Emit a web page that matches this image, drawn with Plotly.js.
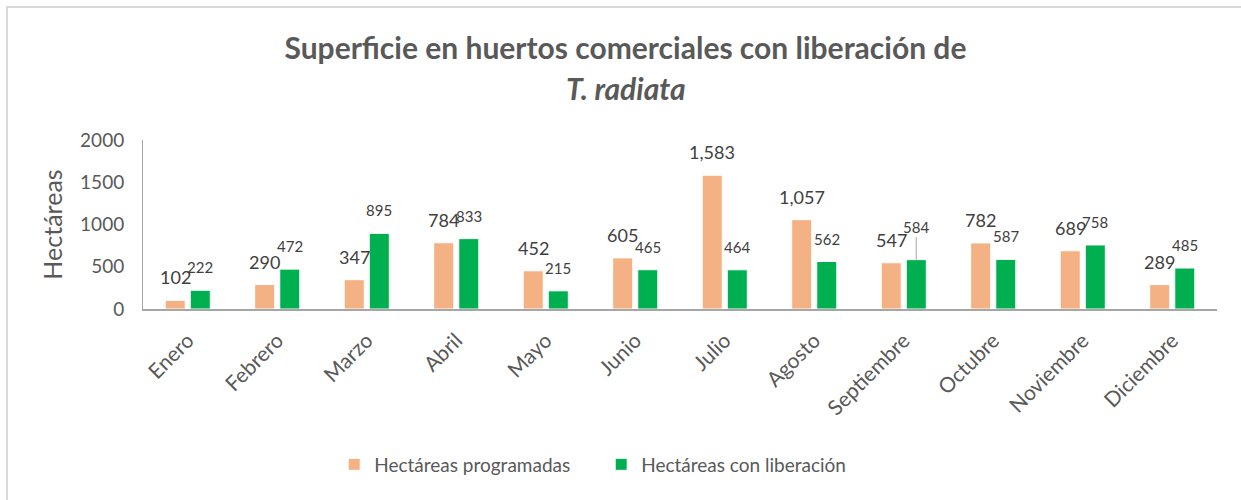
<!DOCTYPE html>
<html>
<head>
<meta charset="utf-8">
<script src="https://cdn.plot.ly/plotly-3.0.1.min.js"></script>
<style>
  body { margin: 0; background: #fff; }
  #chart { width: 1241px; height: 500px; position: absolute; left: 0; top: 0; }
  #frame { position: absolute; left: 6px; top: 6px; width: 1300px; height: 600px;
           border-left: 2px solid #d9d9d9; border-top: 2px solid #d9d9d9; pointer-events: none; }
</style>
</head>
<body>
<div id="chart"></div>
<div id="frame"></div>
<script>
const months = ['Enero', 'Febrero', 'Marzo', 'Abril', 'Mayo', 'Junio', 'Julio',
                'Agosto', 'Septiembre', 'Octubre', 'Noviembre', 'Diciembre'];
const programadas = [102, 290, 347, 784, 452, 605, 1583, 1057, 547, 782, 689, 289];
const liberacion = [222, 472, 895, 833, 215, 465, 464, 562, 584, 587, 758, 485];
const yTicks = [0, 500, 1000, 1500, 2000];

const orange = '#F4B183';
const green = '#00B050';
const font = 'Lato, "Open Sans", sans-serif';

const traceProg = {
    x: months, y: programadas, type: 'bar', name: 'Hectáreas programadas',
    marker: { color: orange, line: { color: '#fff', width: 1 } },
    hoverinfo: 'skip'
};
const traceLib = {
    x: months, y: liberacion, type: 'bar', name: 'Hectáreas con liberación',
    marker: { color: green, line: { color: '#fff', width: 1 } },
    hoverinfo: 'skip'
};

// value labels above each bar
const annotations = [];
months.forEach((m, i) => {
    annotations.push({
        x: m, y: programadas[i], xref: 'x', yref: 'y',
        text: programadas[i].toLocaleString('en-US'),
        showarrow: false, xshift: -12.5, yshift: 23, yanchor: 'middle',
        font: { family: font, size: 18, color: '#404040' }
    });
    const lab = {
        x: m, y: liberacion[i], xref: 'x', yref: 'y',
        text: liberacion[i].toLocaleString('en-US'),
        showarrow: false, xshift: 12.5, yshift: 23, yanchor: 'middle',
        font: { family: font, size: 15, color: '#404040' }
    };
    if (m === 'Septiembre') {
        // label moved up with a leader line
        lab.showarrow = true;
        lab.yshift = 0;
        lab.ax = 0;
        lab.ay = -33;
        lab.arrowhead = 0;
        lab.arrowwidth = 1;
        lab.arrowcolor = '#a6a6a6';
        lab.standoff = 0;
        lab.startstandoff = 0;
    }
    annotations.push(lab);
});

// second title line
annotations.push({
    xref: 'paper', yref: 'paper', x: 0.4497, y: 1.308,
    xanchor: 'center', yanchor: 'middle', showarrow: false,
    text: '<b><i>T. radiata</i></b>',
    font: { family: font, size: 30, color: '#595959' }
});

const layout = {
    width: 1241, height: 500,
    margin: { l: 143, r: 24, t: 140, b: 191 },
    paper_bgcolor: 'rgba(0,0,0,0)', plot_bgcolor: 'rgba(0,0,0,0)',
    font: { family: font, color: '#595959' },
    title: {
        text: '<b>Superficie en huertos comerciales con liberación de</b>',
        font: { family: font, size: 30, color: '#595959' },
        x: 0.504, xanchor: 'center', xref: 'container',
        y: 1 - 48 / 500, yanchor: 'middle', yref: 'container'
    },
    barmode: 'group', bargap: 0.44, bargroupgap: 0.2,
    xaxis: {
        type: 'category', tickangle: -45, showgrid: false,
        showline: true, linecolor: '#a6a6a6', linewidth: 2,
        ticks: '', ticklabelstandoff: 9,
        tickfont: { family: font, size: 21, color: '#595959' }
    },
    yaxis: {
        range: [0, 2000], tickvals: yTicks, showgrid: false, zeroline: false,
        showline: true, linecolor: '#a6a6a6', linewidth: 1,
        ticks: '', ticklabelstandoff: 14,
        tickfont: { family: font, size: 19, color: '#595959' },
        title: { text: 'Hectáreas', font: { family: font, size: 25, color: '#595959' }, standoff: 10 }
    },
    showlegend: true,
    legend: {
        orientation: 'h', x: 0.178, xanchor: 'left', y: -0.92, yanchor: 'middle',
        font: { family: font, size: 19, color: '#595959' },
        itemwidth: 30, entrywidth: 222, entrywidthmode: 'pixels', tracegroupgap: 0
    },
    annotations: annotations
};

Plotly.newPlot('chart', [traceProg, traceLib], layout, { displayModeBar: false, staticPlot: true });
</script>
</body>
</html>
